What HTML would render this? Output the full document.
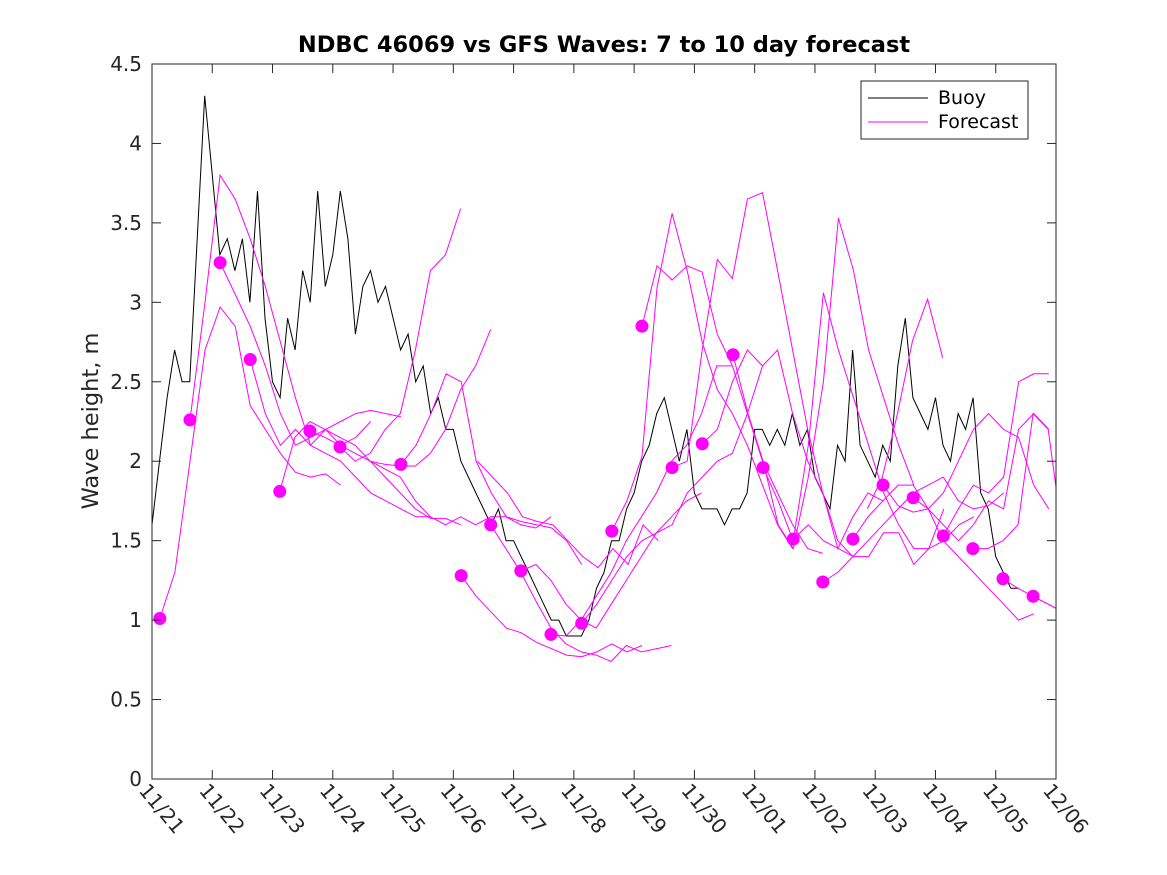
<!DOCTYPE html>
<html><head><meta charset="utf-8"><style>
body{margin:0;background:#fff;}
svg{display:block;font-family:"DejaVu Sans","Liberation Sans",sans-serif;}
</style></head><body>
<svg id="chart" width="1167" height="875" viewBox="0 0 1167 875">
<defs><clipPath id="clip"><rect x="152" y="64" width="904" height="715"/></clipPath></defs>
<rect x="0" y="0" width="1167" height="875" fill="#fff"/>
<text x="604" y="52" text-anchor="middle" font-size="22.5" font-weight="bold" fill="#000">NDBC 46069 vs GFS Waves: 7 to 10 day forecast</text>
<text transform="translate(98,421) rotate(-90)" text-anchor="middle" font-size="22.5" fill="#262626">Wave height, m</text>
<g id="plot" clip-path="url(#clip)"></g>
<g id="axes"></g>
<g>
<rect x="861" y="81" width="167" height="58" fill="#fff" stroke="#262626" stroke-width="1"/>
<line x1="868" y1="98" x2="928" y2="98" stroke="#000" stroke-width="1"/>
<text x="938" y="104" font-size="19" fill="#000">Buoy</text>
<line x1="868" y1="122" x2="928" y2="122" stroke="#ff00ff" stroke-width="1"/>
<text x="938" y="128" font-size="19" fill="#000">Forecast</text>
</g>
</svg>
<script>
const xTickLabels=["11/21","11/22","11/23","11/24","11/25","11/26","11/27","11/28","11/29","11/30","12/01","12/02","12/03","12/04","12/05","12/06"];
const yTickValues=[0,0.5,1,1.5,2,2.5,3,3.5,4,4.5];
const yTickLabels=["0","0.5","1","1.5","2","2.5","3","3.5","4","4.5"];
const buoyStep=0.125;
const buoyValues=[1.6,2.0,2.4,2.7,2.5,2.5,3.4,4.3,
3.8,3.3,3.4,3.2,3.4,3.0,3.7,2.9,
2.5,2.4,2.9,2.7,3.2,3.0,3.7,3.1,
3.3,3.7,3.4,2.8,3.1,3.2,3.0,3.1,
2.9,2.7,2.8,2.5,2.6,2.3,2.4,2.2,
2.2,2.0,1.9,1.8,1.7,1.6,1.7,1.5,
1.5,1.4,1.3,1.2,1.1,1.0,1.0,0.9,
0.9,0.9,1.0,1.2,1.3,1.5,1.5,1.7,
1.8,2.0,2.1,2.3,2.4,2.2,2.0,2.2,
1.8,1.7,1.7,1.7,1.6,1.7,1.7,1.8,
2.2,2.2,2.1,2.2,2.1,2.3,2.1,2.2,
1.9,1.8,1.7,2.1,2.0,2.7,2.1,2.0,
1.9,2.1,2.0,2.6,2.9,2.4,2.3,2.2,
2.4,2.1,2.0,2.3,2.2,2.4,1.8,1.7,
1.4,1.3,1.2,1.2];
const forecastStep=0.25;
const forecastStarts=[0.13,0.63,1.13,1.63,2.12,2.62,3.12,3.62,4.13,5.13,5.62,6.12,5.4,6.62,7.13,7.63,8.13,8.63,9.13,9.64,10.14,10.64,11.13,11.63,12.13,11.87,12.63,13.13,13.62,14.12,14.62];
const forecastHasDot=[1,1,1,1,1,1,1,0,1,1,1,1,0,1,1,1,1,1,1,1,1,1,1,1,1,0,1,1,1,1,1];
const f0=[1.01,1.3,2.0,2.7,2.97,2.85,2.35,2.2,2.05,1.93,1.9,1.92,1.85];
const f1=[2.26,3.0,3.8,3.65,3.4,3.1,2.75,2.4,2.1,2.2,2.1,2.15,2.25];
const f2=[3.25,3.05,2.85,2.6,2.3,2.1,2.15,2.2,2.25,2.3,2.32,2.3,2.28];
const f3=[2.64,2.3,2.1,2.2,2.1,2.05,2.0,1.9,1.8,1.75,1.7,1.65,1.65];
const f4=[1.81,2.15,2.25,2.2,2.15,2.1,2.0,1.9,1.8,1.7,1.64,1.64,1.6];
const f5=[2.19,2.15,2.1,2.05,2.0,1.98,1.97,1.97,2.05,2.2,2.45,2.6,2.83];
const f6=[2.09,2.0,2.05,2.2,2.3,2.7,3.2,3.3,3.59];
const f7=[2.0,1.95,1.9,1.75,1.65,1.6,1.65,1.6,1.65,1.65,1.6,1.58,1.65];
const f8=[1.98,2.1,2.3,2.55,2.5,2.0,1.8,1.65,1.62,1.6,1.58,1.5,1.35];
const f9=[1.28,1.15,1.05,0.95,0.92,0.86,0.82,0.78,0.77,0.8,0.85,0.8,0.84];
const f10=[1.6,1.45,1.3,1.12,0.95,0.85,0.8,0.78,0.74,0.84,0.8,0.82,0.84];
const f11=[1.31,1.35,1.25,1.1,1.0,0.95,1.1,1.25,1.4,1.55,1.65,1.75,1.8];
const f12=[2.0,1.9,1.8,1.65,1.62,1.6,1.5,1.4,1.33,1.45,1.35,1.6,1.5];
const f13=[0.91,0.9,1.0,1.15,1.3,1.5,1.65,1.8,2.0,2.1,2.3,2.6,2.6];
const f14=[0.98,1.1,1.25,1.4,1.5,1.55,1.6,1.8,1.9,2.0,2.05,2.3,2.6];
const f15=[1.56,1.75,2.03,3.09,3.56,3.2,2.75,2.45,2.3,2.1,1.85,1.6,1.45];
const f16=[2.85,3.23,3.14,3.23,3.19,2.8,2.6,2.3,2.0,1.8,1.6,1.45,1.42];
const f17=[1.96,2.0,2.7,3.27,3.15,3.65,3.69,3.2,2.7,2.2,1.8,1.5,1.4];
const f18=[2.11,2.2,2.5,2.7,2.6,2.7,2.3,2.0,1.8,1.45,1.65,1.8,1.75];
const f19=[2.67,2.3,2.0,1.6,1.45,1.9,2.5,3.53,3.2,2.7,2.4,2.1,1.85];
const f20=[1.96,1.75,1.5,2.1,3.06,2.7,2.4,2.1,1.8,1.6,1.45,1.45,1.7];
const f21=[1.51,1.6,1.5,1.45,1.4,1.4,1.55,1.55,1.35,1.45,1.5,1.6,1.65];
const f22=[1.24,1.3,1.4,1.5,1.6,1.7,1.8,1.85,1.9,1.75,1.7,1.72,1.8];
const f23=[1.51,1.65,1.75,1.85,1.85,1.7,1.5,1.4,1.3,1.2,1.1,1.0,1.04];
const f24=[1.85,1.72,1.68,1.7,1.8,2.0,2.2,2.3,2.2,2.15,1.85,1.7];
const f25=[1.7,1.9,2.3,2.76,3.02,2.65];
const f26=[1.77,1.7,1.6,1.5,1.6,1.75,1.7,2.2,2.3,2.2];
const f27=[1.53,1.7,1.85,1.8,1.9,2.5,2.55,2.55];
const f28=[1.45,1.45,1.5,1.6,2.3,2.2,1.5];
const f29=[1.26,1.2,1.15,1.1,1.05];
const f30=[1.15,1.1,1.05];
const forecastSeries=[f0,f1,f2,f3,f4,f5,f6,f7,f8,f9,f10,f11,f12,f13,f14,f15,f16,f17,f18,f19,f20,f21,f22,f23,f24,f25,f26,f27,f28,f29,f30];

const NS="http://www.w3.org/2000/svg";
const X0=152,X1=1056,Y0=779,Y1=64,DMAX=15,VMAX=4.5;
function xs(d){return X0+(X1-X0)*d/DMAX;}
function ys(v){return Y0-(Y0-Y1)*v/VMAX;}
function mk(tag,attrs,parent){const e=document.createElementNS(NS,tag);for(const k in attrs)e.setAttribute(k,attrs[k]);parent.appendChild(e);return e;}
const plot=document.getElementById('plot');
const axes=document.getElementById('axes');

let bp=buoyValues.map((v,i)=>xs(i*buoyStep).toFixed(1)+','+ys(v).toFixed(1)).join(' ');
const buoy=mk('polyline',{points:bp,fill:'none',stroke:'#000','stroke-width':1},plot);



forecastSeries.forEach((s,j)=>{
  const st=forecastStarts[j];
  const pts=s.map((v,i)=>xs(st+i*forecastStep).toFixed(1)+','+ys(v).toFixed(1)).join(' ');
  const pl=mk('polyline',{points:pts,fill:'none',stroke:'#ff00ff','stroke-width':1},plot);
  
  
});
forecastSeries.forEach((s,j)=>{
  if(!forecastHasDot[j])return;
  const c=mk('circle',{cx:xs(forecastStarts[j]),cy:ys(s[0]),r:6.5,fill:'#ff00ff'},plot);
  
  
});

mk('rect',{x:X0,y:Y1,width:X1-X0,height:Y0-Y1,fill:'none',stroke:'#262626','stroke-width':1},axes);
yTickValues.forEach((v,i)=>{
  const y=ys(v);
  mk('line',{x1:X0,y1:y,x2:X0+9,y2:y,stroke:'#262626'},axes);
  mk('line',{x1:X1,y1:y,x2:X1-9,y2:y,stroke:'#262626'},axes);
  const t=mk('text',{x:X0-10,y:y+7,'text-anchor':'end','font-size':20,fill:'#262626'},axes);
  t.textContent=yTickLabels[i];
  
  
});
xTickLabels.forEach((lab,i)=>{
  const x=xs(i);
  mk('line',{x1:x,y1:Y0,x2:x,y2:Y0-9,stroke:'#262626'},axes);
  mk('line',{x1:x,y1:Y1,x2:x,y2:Y1+9,stroke:'#262626'},axes);
  const t=mk('text',{transform:`translate(${x-14},${Y0+12}) rotate(50)`,'font-size':20,fill:'#262626'},axes);
  t.textContent=lab;
  
  
});
</script>
</body></html>
